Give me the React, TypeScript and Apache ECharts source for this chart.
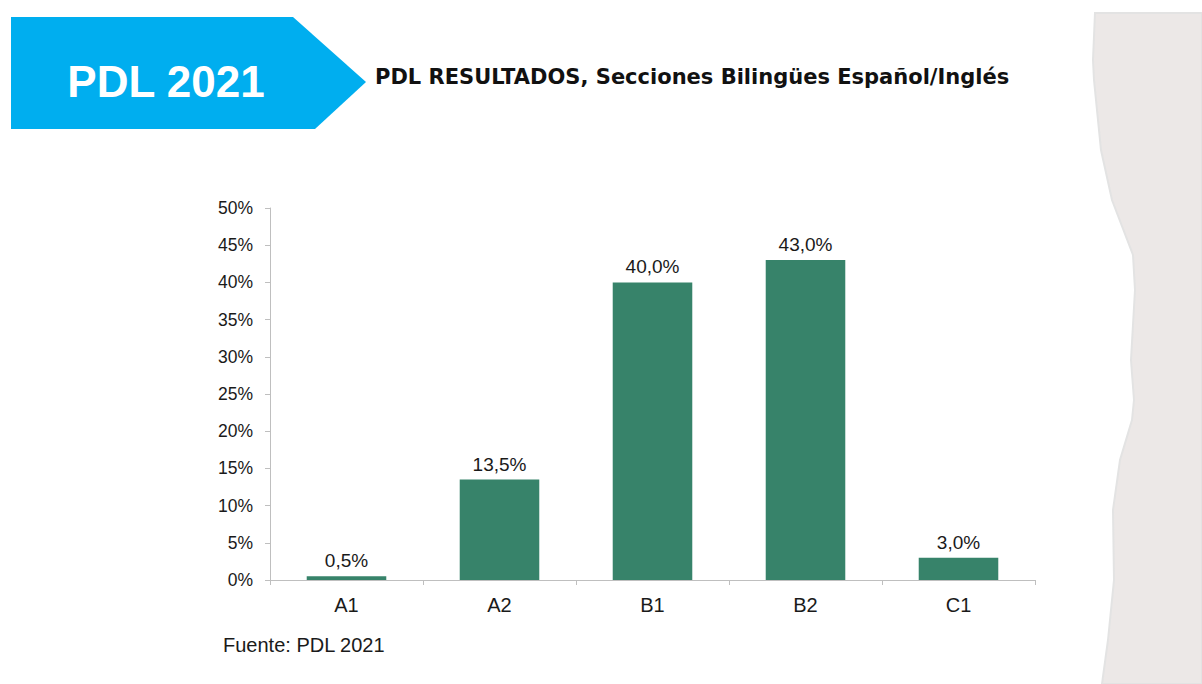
import React, { useEffect, useRef } from "react";
import * as echarts from "echarts";

const categories = ["A1", "A2", "B1", "B2", "C1"];
const values = [0.5, 13.5, 40.0, 43.0, 3.0];
const yTicks = [0, 5, 10, 15, 20, 25, 30, 35, 40, 45, 50];

const bannerText = "PDL 2021";
const titleText = "PDL RESULTADOS, Secciones Bilingües Español/Inglés";
const sourceText = "Fuente: PDL 2021";

export default function App() {
  const ref = useRef<HTMLDivElement>(null);
  useEffect(() => {
    const chart = echarts.init(ref.current!, undefined, { renderer: "svg" });
    chart.setOption({
      animation: false,
      backgroundColor: "#ffffff",
      grid: { left: 270, right: 167, top: 208, bottom: 104, containLabel: false },
      xAxis: {
        type: "category",
        data: categories,
        axisLine: { lineStyle: { color: "#bfbfbf", width: 1 } },
        axisTick: { show: true, alignWithLabel: false, length: 5, lineStyle: { color: "#bfbfbf" } },
        axisLabel: { color: "#1a1a1a", fontSize: 20, fontFamily: "Liberation Sans, Arial", margin: 15 },
      },
      yAxis: {
        type: "value",
        min: yTicks[0],
        max: yTicks[yTicks.length - 1],
        interval: 5,
        axisLine: { show: true, lineStyle: { color: "#bfbfbf", width: 1 } },
        axisTick: { show: true, length: 5, lineStyle: { color: "#bfbfbf" } },
        splitLine: { show: false },
        axisLabel: {
          color: "#1a1a1a",
          fontSize: 17.5,
          fontFamily: "Liberation Sans, Arial",
          margin: 17,
          formatter: (v: number) => `${v}%`,
        },
      },
      series: [
        {
          type: "bar",
          data: values,
          barWidth: "52%",
          itemStyle: { color: "#37836a" },
          label: {
            show: true,
            position: "top",
            distance: 6,
            color: "#1a1a1a",
            fontSize: 19,
            fontFamily: "Liberation Sans, Arial",
            formatter: (p: any) => p.value.toFixed(1).replace(".", ",") + "%",
          },
        },
      ],
      graphic: [
        {
          type: "polygon",
          z: 0,
          shape: {
            points: [
              [1095, 13], [1202, 13], [1202, 684], [1102, 684], [1108, 640], [1114, 580],
              [1113, 510], [1120, 460], [1132, 420], [1134, 400], [1131, 360], [1135, 290],
              [1133, 255], [1112, 200], [1101, 150], [1094, 80], [1093, 60],
            ],
          },
          style: { fill: "#ece8e7", stroke: "#e3e3e3", lineWidth: 2 },
        },
        {
          type: "polygon",
          shape: {
            points: [[11, 17], [293, 17], [366, 82], [315, 129], [11, 129]],
          },
          style: { fill: "#00aeef" },
        },
        {
          type: "text",
          x: 166,
          y: 81,
          style: {
            text: bannerText,
            fill: "#ffffff",
            font: "bold 44px 'Liberation Sans', Arial",
            textAlign: "center",
            textVerticalAlign: "middle",
          },
        },
        {
          type: "text",
          x: 375,
          y: 77,
          style: {
            text: titleText,
            fill: "#111111",
            font: "bold 21px 'DejaVu Sans', sans-serif",
            textAlign: "left",
            textVerticalAlign: "middle",
          },
        },
        {
          type: "text",
          x: 223,
          y: 645,
          style: {
            text: sourceText,
            fill: "#1a1a1a",
            font: "20px 'Liberation Sans', Arial",
            textAlign: "left",
            textVerticalAlign: "middle",
          },
        },
      ],
    });
    return () => chart.dispose();
  }, []);
  return <div ref={ref} style={{ width: 1202, height: 684, position: "absolute", left: 0, top: 0 }} />;
}
